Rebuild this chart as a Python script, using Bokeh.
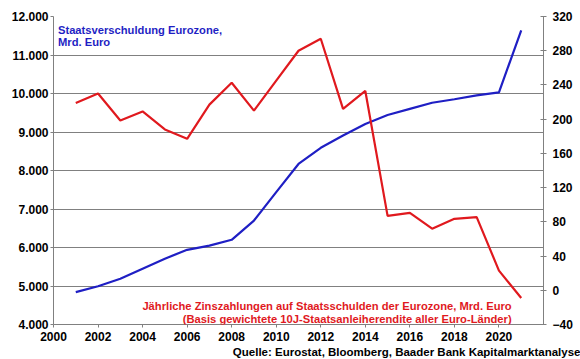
from bokeh.plotting import figure
from bokeh.models import Range1d, LinearAxis, FixedTicker, Label, Title
from bokeh.embed import file_html
from bokeh.resources import INLINE

# ---- data ----
years = list(range(2001, 2022))
debt = [4840, 4995, 5190, 5450, 5710, 5940, 6050, 6200, 6700, 7440, 8170,
        8590, 8910, 9210, 9440, 9600, 9760, 9850, 9950, 10030, 11640]
interest = [219, 230, 198.5, 209, 188, 177, 217, 242.5, 210, 245, 280,
            294, 212, 233, 87, 90.5, 72, 83.5, 85.5, 23, -9]
left_ticks = [4000, 5000, 6000, 7000, 8000, 9000, 10000, 11000, 12000]
left_labels = ["4.000", "5.000", "6.000", "7.000", "8.000", "9.000", "10.000", "11.000", "12.000"]
right_ticks = [-40, 0, 40, 80, 120, 160, 200, 240, 280, 320]
x_ticks = [2000, 2002, 2004, 2006, 2008, 2010, 2012, 2014, 2016, 2018, 2020]

title_blue = ["Staatsverschuldung Eurozone,", "Mrd. Euro"]
title_red = ["Jährliche Zinszahlungen auf Staatsschulden der Eurozone, Mrd. Euro",
             "(Basis gewichtete 10J-Staatsanleiherendite aller Euro-Länder)"]
source = "Quelle: Eurostat, Bloomberg, Baader Bank Kapitalmarktanalyse"

FONT = "Liberation Sans"
BLUE = "#1f1fc4"
RED = "#e0191e"
GRAY = "#808080"

p = figure(width=580, height=359, output_backend="svg", toolbar_location=None,
           x_range=Range1d(2000, 2022), y_range=Range1d(4000, 12000),
           min_border_left=53, min_border_right=37, min_border_top=16, min_border_bottom=35)
p.extra_y_ranges = {"right": Range1d(-40, 320)}
p.outline_line_color = None
p.background_fill_color = "white"
p.border_fill_color = "white"

# axes
p.xaxis.ticker = FixedTicker(ticks=x_ticks)
p.yaxis.ticker = FixedTicker(ticks=left_ticks)
p.yaxis.major_label_overrides = {t: l for t, l in zip(left_ticks, left_labels)}

for ax in (p.xaxis[0], p.yaxis[0]):
    ax.axis_line_color = GRAY
    ax.major_tick_line_color = GRAY
    ax.minor_tick_line_color = None
    ax.major_tick_in = 0
    ax.major_tick_out = 3
    ax.major_label_text_font = FONT
    ax.major_label_text_font_style = "bold"
    ax.major_label_text_font_size = "12px"
    ax.major_label_text_color = "#000000"
p.yaxis.major_label_standoff = 2
p.xaxis.major_label_standoff = 4

ra = LinearAxis(y_range_name="right", ticker=FixedTicker(ticks=right_ticks))
ra.axis_line_color = GRAY
ra.major_tick_line_color = GRAY
ra.minor_tick_line_color = None
ra.major_tick_in = 3
ra.major_tick_out = 3
ra.major_label_standoff = 6
ra.major_label_text_font = FONT
ra.major_label_text_font_style = "bold"
ra.major_label_text_font_size = "12px"
ra.major_label_text_color = "#000000"
p.add_layout(ra, "right")

p.xgrid.grid_line_color = None
p.ygrid.grid_line_color = GRAY
p.ygrid.grid_line_width = 1

# lines
p.line(years, debt, line_color=BLUE, line_width=2.2)
p.line(years, interest, line_color=RED, line_width=2.2, y_range_name="right")

# texts
for i, t in enumerate(title_blue):
    p.add_layout(Label(x=2000.2, y=11662 - i * 337, text=t, text_font=FONT,
                       text_font_style="bold", text_font_size="11.2px", text_color=BLUE,
                       text_baseline="alphabetic", text_align="left"))
for i, t in enumerate(title_red):
    p.add_layout(Label(x=2020.57, y=4468 - i * 325, text=t, text_font=FONT,
                       text_font_style="bold", text_font_size="11.2px", text_color=RED,
                       text_baseline="alphabetic", text_align="right"))

p.add_layout(Title(text=source, align="right", text_font=FONT, text_font_style="bold",
                   text_font_size="11.5px", text_color="#000000", standoff=0,
                   offset=-37), "below")

open("out.html", "w").write(file_html(p, INLINE))
